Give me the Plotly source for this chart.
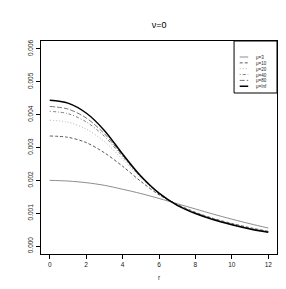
import plotly.graph_objects as go

r = [0, 1, 2, 3, 4, 5, 6, 7, 8, 9, 10, 11, 12]
mu3 = [0.00200, 0.00198, 0.00193, 0.00185, 0.00173, 0.00160, 0.00145, 0.00129, 0.00113, 0.00097, 0.00082, 0.00068, 0.00055]
mu10 = [0.00335, 0.00331, 0.00315, 0.00284, 0.00243, 0.00197, 0.00156, 0.00127, 0.00103, 0.00084, 0.00069, 0.00056, 0.00045]
mu20 = [0.00383, 0.00377, 0.00356, 0.00318, 0.00264, 0.00207, 0.00159, 0.00126, 0.00102, 0.00083, 0.00067, 0.00055, 0.00044]
mu40 = [0.00410, 0.00403, 0.00378, 0.00334, 0.00272, 0.00210, 0.00160, 0.00126, 0.00101, 0.00082, 0.00066, 0.00054, 0.00043]
mu80 = [0.00425, 0.00417, 0.00390, 0.00342, 0.00276, 0.00212, 0.00161, 0.00125, 0.00100, 0.00081, 0.00066, 0.00053, 0.00043]
muInf = [0.00444, 0.00435, 0.00405, 0.00352, 0.00280, 0.00213, 0.00161, 0.00124, 0.00099, 0.00080, 0.00065, 0.00052, 0.00042]

labels = ["μ=3", "μ=10", "μ=20", "μ=40", "μ=80", "μ=Inf"]
series = [mu3, mu10, mu20, mu40, mu80, muInf]
colors = ["#707070", "#303030", "#a0a0a0", "#606060", "#505050", "#000000"]
dashes = ["solid", "3px,2px", "1px,2px", "1px,2px,3px,2px", "5px,2px", "solid"]
widths = [0.8, 0.8, 0.8, 0.8, 0.8, 1.5]

yticks = [0.000, 0.001, 0.002, 0.003, 0.004, 0.005, 0.006]
ytext = ["0.000", "0.001", "0.002", "0.003", "0.004", "0.005", "0.006"]
xticks = [0, 2, 4, 6, 8, 10, 12]

fig = go.Figure()
for name, ys, c, d, w in zip(labels, series, colors, dashes, widths):
    fig.add_trace(go.Scatter(x=r, y=ys, mode="lines", name=name,
                             line=dict(color=c, dash=d, width=w, shape="spline", smoothing=0.9),
                             showlegend=False))

font = "Liberation Sans, Arial, sans-serif"

# manual legend (R style): one multi-line text block + line samples aligned to its rows
plot_h = 289 - 33 - 43
leg_font = 4.5
line_gap = 1.3 * leg_font
first_row_px = 49.0
rows_px = [first_row_px + i * line_gap for i in range(len(labels))]
to_paper = lambda py: (289 - 43 - py) / plot_h

shapes = [dict(type="rect", xref="paper", yref="paper", x0=0.818, x1=1.0, y0=to_paper(85), y1=1.0,
               line=dict(color="black", width=1), fillcolor="white", layer="above")]
for py, c, d, w in zip(rows_px, colors, dashes, widths):
    shapes.append(dict(type="line", xref="paper", yref="paper", x0=0.842, x1=0.878,
                       y0=to_paper(py), y1=to_paper(py), line=dict(color=c, dash=d, width=w), layer="above"))

annotations = [dict(xref="paper", yref="paper", x=0.905, y=to_paper((rows_px[0] + rows_px[-1]) / 2),
                    text="<br>".join(labels), showarrow=False, xanchor="left", yanchor="middle",
                    align="left", borderpad=0,
                    font=dict(size=leg_font, color="#222222", family=font))]

fig.update_layout(
    width=286, height=289,
    margin=dict(l=33, r=17, t=33, b=43),
    paper_bgcolor="white", plot_bgcolor="white",
    title=dict(text="ν=0", x=0.528, xanchor="center", y=0.94, yanchor="middle",
               font=dict(size=9, color="black", family=font)),
    shapes=shapes, annotations=annotations,
    showlegend=False,
    xaxis=dict(range=[-0.48, 12.48], tickvals=xticks, ticktext=[str(v) for v in xticks],
               showgrid=False, zeroline=False, showline=True, linecolor="black", linewidth=1,
               mirror=True, ticks="outside", ticklen=4, tickcolor="black",
               tickfont=dict(size=6.5, color="#222222", family=font),
               title=dict(text="r", font=dict(size=6.5, color="#222222", family=font), standoff=8)),
    yaxis=dict(range=[-0.00024, 0.00624], tickvals=yticks, ticktext=ytext,
               showgrid=False, zeroline=False, showline=True, linecolor="black", linewidth=1,
               mirror=True, ticks="outside", ticklen=4, tickcolor="black", tickangle=-90,
               tickfont=dict(size=6.5, color="#222222", family=font)),
)

fig.write_html("out.html")
